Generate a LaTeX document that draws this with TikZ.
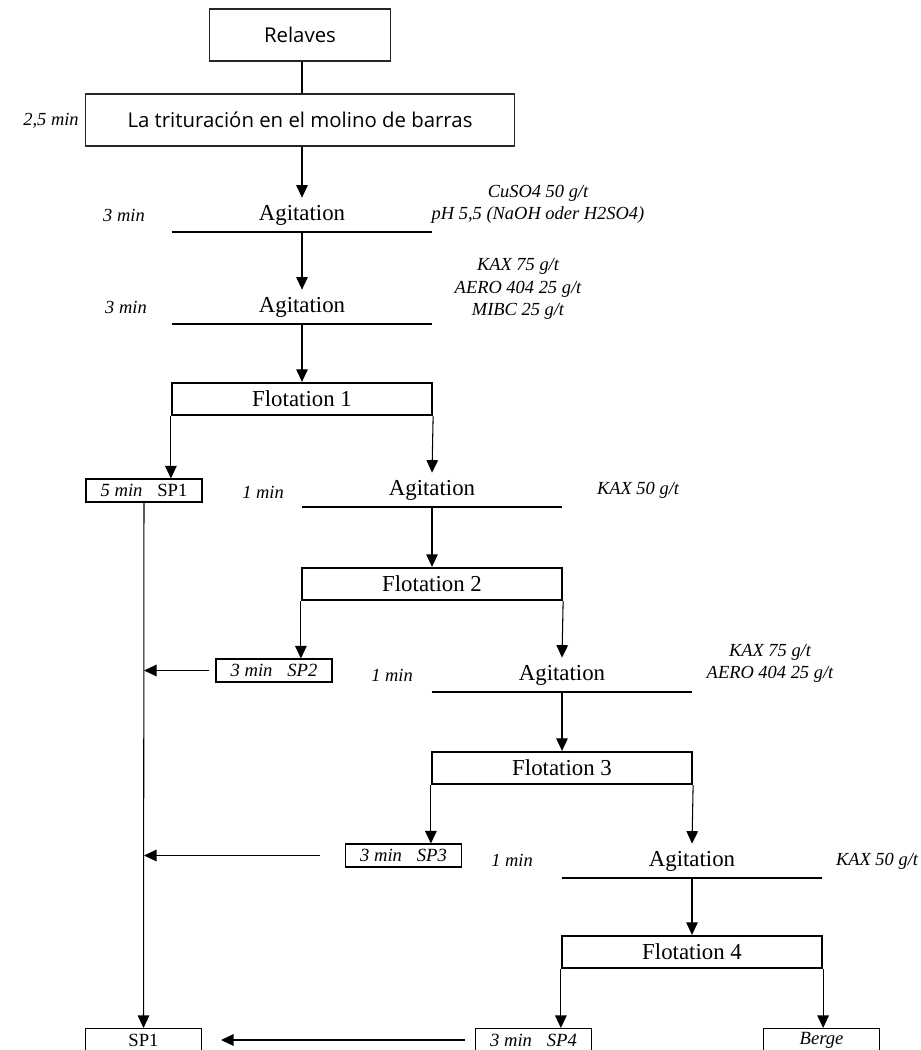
\documentclass[tikz,border=0pt]{standalone}
\usepackage{fontspec}
\setmainfont{Liberation Serif}
\newfontfamily\boxsans{Open Sans}
\usetikzlibrary{arrows.meta}

\begin{document}
\begin{tikzpicture}[x=0.02cm, y=-0.02cm,
        every node/.style={font=\fontsize{13}{15}\selectfont},
        startbox/.style={draw=black!85, line width=0.6pt, minimum height=1.04cm,
            font=\boxsans\fontsize{11.6}{14}\selectfont},
        agit/.style={minimum width=5.2cm, minimum height=0.68cm, inner sep=0pt},
        bar/.style={line width=1.3pt},
        flotbox/.style={draw, line width=1.3pt, minimum width=5.2cm,
            minimum height=0.64cm, inner sep=0pt},
        spbox/.style={draw, line width=0.6pt, minimum width=2.32cm,
            minimum height=0.46cm, inner sep=0pt,
            font=\fontsize{10.6}{12}\selectfont},
        note/.style={font=\itshape\fontsize{10.5}{12.6}\selectfont, align=center},
        flow/.style={line width=0.6pt, -{Triangle[length=0.25cm, width=0.23cm]}},
        link/.style={line width=0.6pt}
    ]
    \useasboundingbox (0,0) rectangle (920,1050);

    % Feed and grinding
    \node[startbox, minimum width=3.62cm] (relaves) at (300,35) {Relaves};
    \node[startbox, minimum width=8.58cm] (molino) at (300,120)
        {La trituración en el molino de barras};
    \node[note] (t0) at (51,121) {2,5 min};

    % Agitation 1
    \node[agit] (ag1) at (302,215) {Agitation};
    \draw[bar] (ag1.south west) -- (ag1.south east);
    \node[note] (t1) at (124,215) {3 min};
    \node[note] (r1) at (538,204) {CuSO4 50 g/t\\pH 5,5 (NaOH oder H2SO4)};

    % Agitation 2
    \node[agit] (ag2) at (302,307) {Agitation};
    \draw[bar] (ag2.south west) -- (ag2.south east);
    \node[note] (t2) at (126,307) {3 min};
    \node[note] (r2) at (518,289) {KAX 75 g/t\\AERO 404 25 g/t\\MIBC 25 g/t};

    % Flotation 1
    \node[flotbox] (flot1) at (302,399) {Flotation 1};
    \node[spbox] (sp1a) at (144,490.5) {\textit{5 min}\hspace{0.8em}SP1};

    % Agitation 3
    \node[agit] (agB) at (432,490) {Agitation};
    \draw[bar] (agB.south west) -- (agB.south east);
    \node[note] (t3) at (263,492) {1 min};
    \node[note] (r3) at (638,490) {KAX 50 g/t};

    % Flotation 2
    \node[flotbox] (flot2) at (432,584) {Flotation 2};
    \node[spbox] (sp2) at (274,670.5) {\textit{3 min\hspace{0.8em}SP2}};

    % Agitation 4
    \node[agit] (agC) at (562,675) {Agitation};
    \draw[bar] (agC.south west) -- (agC.south east);
    \node[note] (t4) at (392,675) {1 min};
    \node[note] (r4) at (770,663) {KAX 75 g/t\\AERO 404 25 g/t};

    % Flotation 3
    \node[flotbox] (flot3) at (562,768) {Flotation 3};
    \node[spbox] (sp3) at (403.5,855.5) {\textit{3 min\hspace{0.8em}SP3}};

    % Agitation 5
    \node[agit] (agD) at (692,861) {Agitation};
    \draw[bar] (agD.south west) -- (agD.south east);
    \node[note] (t5) at (512,860) {1 min};
    \node[note] (r5) at (877,861) {KAX 50 g/t};

    % Flotation 4
    \node[flotbox] (flot4) at (692,952) {Flotation 4};

    % Products
    \node[spbox] (sp1b) at (143.5,1040) {SP1};
    \node[spbox] (sp4) at (533.5,1040) {\textit{3 min\hspace{0.8em}SP4}};
    \node[spbox] (berge) at (821.5,1040) {\textit{Berge}};

    % Connectors
    \draw[link] (relaves.south -| ag1) -- (molino.north -| ag1);
    \draw[flow] (molino.south -| ag1) -- (ag1.north);
    \draw[flow] (ag1.south) -- (ag2.north);
    \draw[flow] (ag2.south) -- (flot1.north);
    \draw[flow] (flot1.south west) -- (flot1.south west |- sp1a.north);
    \draw[flow] (flot1.south east) -- (agB.north);
    \draw[flow] (agB.south) -- (flot2.north);
    \draw[flow] (flot2.south west) -- (flot2.south west |- sp2.north);
    \draw[flow] (flot2.south east) -- (agC.north);
    \draw[flow] (agC.south) -- (flot3.north);
    \draw[flow] (flot3.south west) -- (flot3.south west |- sp3.north);
    \draw[flow] (flot3.south east) -- (agD.north);
    \draw[flow] (agD.south) -- (flot4.north);
    \draw[flow] (flot4.south west) -- (flot4.south west |- sp4.north);
    \draw[flow] (flot4.south east) -- (flot4.south east |- berge.north);
    \draw[flow] (sp1a) -- (sp1b);
    \draw[flow, shorten <=0.12cm] (sp2.west) -- (sp2.west -| sp1a);
    \draw[flow, shorten <=0.5cm] (sp3.west) -- (sp3.west -| sp1a);
    \draw[flow, shorten <=0.2cm, shorten >=0.38cm] (sp4.west) -- (sp1b.east);
\end{tikzpicture}
\end{document}
